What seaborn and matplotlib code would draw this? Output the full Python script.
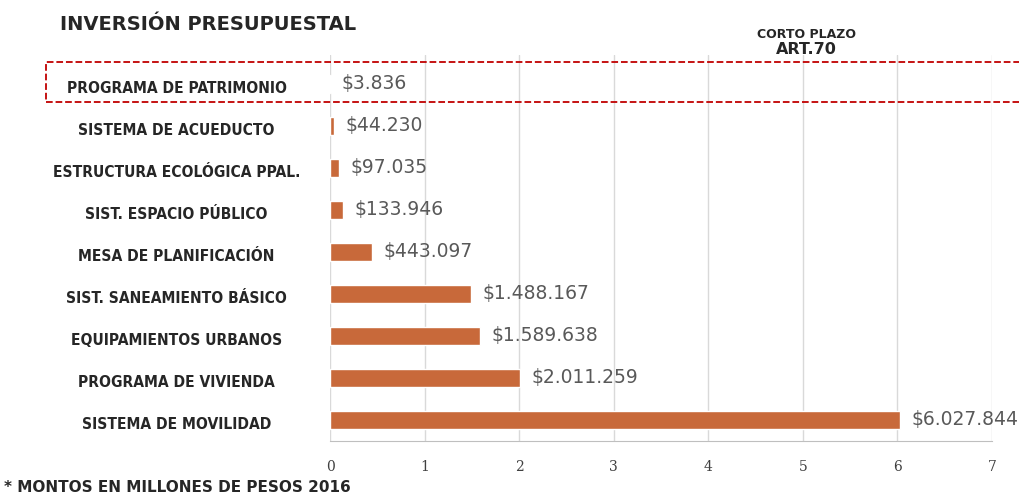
import pandas as pd
import seaborn as sns
import matplotlib.pyplot as plt
from matplotlib.patches import Rectangle

# datos (millones de pesos)
categorias = ['PROGRAMA DE PATRIMONIO', 'SISTEMA DE ACUEDUCTO', 'ESTRUCTURA ECOLÓGICA PPAL.',
              'SIST. ESPACIO PÚBLICO', 'MESA DE PLANIFICACIÓN', 'SIST. SANEAMIENTO BÁSICO',
              'EQUIPAMIENTOS URBANOS', 'PROGRAMA DE VIVIENDA', 'SISTEMA DE MOVILIDAD']
montos = [3.836, 44.230, 97.035, 133.946, 443.097, 1488.167, 1589.638, 2011.259, 6027.844]
etiquetas = ['$3.836', '$44.230', '$97.035', '$133.946', '$443.097', '$1.488.167',
             '$1.589.638', '$2.011.259', '$6.027.844']

df = pd.DataFrame({'categoria': categorias, 'valor': [m / 1000 for m in montos]})

sns.set_style('white')
plt.rcParams['font.family'] = ['DejaVu Sans']

fig = plt.figure(figsize=(10.19, 4.97), dpi=100)
ax = fig.add_axes([0.324, 0.1127, 0.6495, 0.7767])

sns.barplot(ax=ax, data=df, x='valor', y='categoria', color='#C8693A',
            width=0.42, saturation=1, orient='h')

ax.set_xlim(0, 7)
ax.set_ylim(8.5, -0.69)
ax.set_xticks(range(8))
ax.grid(axis='x', color='#D9D9D9', linewidth=1)
ax.set_axisbelow(True)
for s in ['top', 'right', 'left']:
    ax.spines[s].set_visible(False)
ax.spines['bottom'].set_color('#BFBFBF')
ax.set_xlabel('')
ax.set_ylabel('')
ax.tick_params(axis='x', length=0, pad=14, labelsize=10, labelcolor='#404040')
ax.tick_params(axis='y', length=0, pad=0)
ax.set_yticklabels([])

# etiquetas de categoria centradas
for i, c in enumerate(categorias):
    ax.text(-0.232, i + 0.1, c, transform=ax.get_yaxis_transform(), ha='center', va='center',
            fontsize=11.2, fontweight='bold', fontstretch='condensed', color='#262626')

for t in ax.get_xticklabels():
    t.set_fontfamily('DejaVu Serif')

# etiquetas de valor
for i, v in enumerate(df['valor']):
    ax.text(v + 0.12, i, etiquetas[i], va='center', ha='left', fontsize=13.5, color='#595959')

# titulos
fig.text(0.059, 0.95, 'INVERSIÓN PRESUPUESTAL', fontsize=14, fontweight='bold',
         color='#262626', va='center')
fig.text(0.791, 0.93, 'CORTO PLAZO', fontsize=9, fontweight='bold', color='#262626',
         ha='center', va='center')
fig.text(0.791, 0.9, 'ART.70', fontsize=11.5, fontweight='bold', color='#262626',
         ha='center', va='center')
fig.text(0.004, 0.02, '* MONTOS EN MILLONES DE PESOS 2016', fontsize=11, fontweight='bold',
         color='#262626', va='center')

# recuadro punteado
fig.patches.append(Rectangle((0.045, 0.795), 0.96, 0.08, transform=fig.transFigure,
                             fill=False, edgecolor='#C00000', linestyle='--', linewidth=1.3))

plt.savefig('out.png', dpi=100)
